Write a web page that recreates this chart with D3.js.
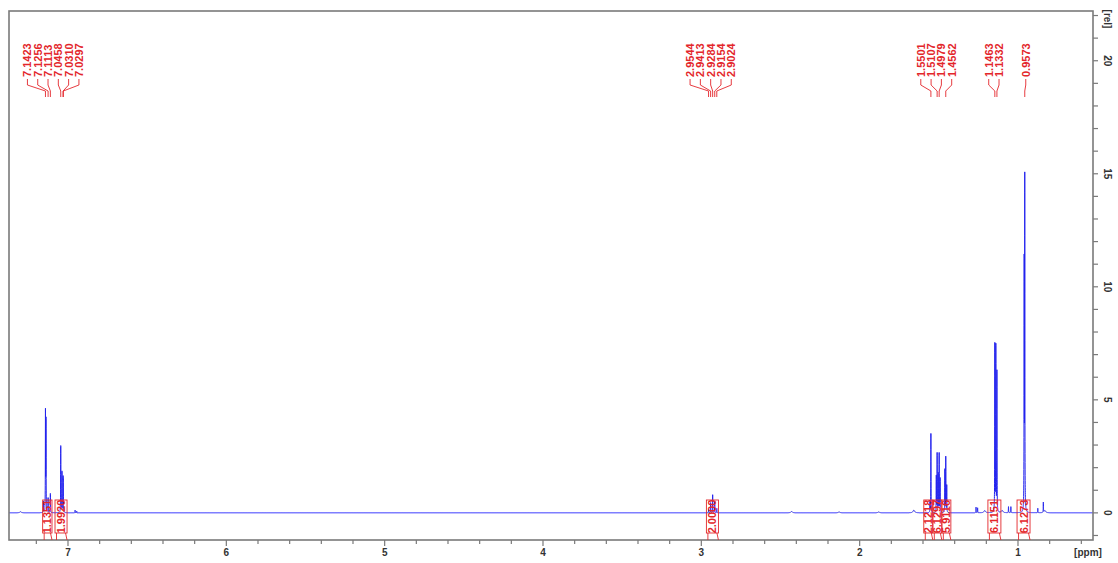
<!DOCTYPE html>
<html>
<head>
<meta charset="utf-8">
<script src="https://cdn.jsdelivr.net/npm/d3@7"></script>
<style>
  body { margin: 0; background: #fff; }
  svg { display: block; font-family: "Liberation Sans", Arial, sans-serif; }
</style>
</head>
<body>
<div id="chart"></div>
<script>
// peak lines (ppm, relative intensity)
const linePpm    = [7.1550, 7.1423, 7.1390, 7.1256, 7.1113, 7.0458, 7.0380, 7.0310, 7.0297, 6.9550, 6.9450,
                    2.9544, 2.9413, 2.9284, 2.9154, 2.9024,
                    1.5560, 1.5501, 1.5160, 1.5107, 1.5040, 1.4979, 1.4920, 1.4620, 1.4562, 1.4500,
                    1.2650, 1.2550, 1.1463, 1.1400, 1.1332, 1.0600, 1.0450,
                    0.9610, 0.9573, 0.8750, 0.8400];
const lineHeight = [0.50, 4.40, 4.00, 0.65, 0.85, 2.95, 1.80, 1.30, 1.10, 0.12, 0.08,
                    0.15, 0.45, 0.80, 0.50, 0.20,
                    0.50, 3.50, 1.60, 2.60, 1.70, 2.60, 1.50, 1.90, 2.45, 1.20,
                    0.25, 0.22, 7.40, 7.30, 6.20, 0.27, 0.27,
                    10.8, 14.6, 0.20, 0.45];

// small broad humps on the baseline
const humpPpm    = [7.30, 2.43, 2.13, 1.88, 1.658, 1.21, 1.10, 0.83];
const humpHeight = [0.05, 0.06, 0.04, 0.04, 0.12, 0.10, 0.10, 0.10];

// peak pick labels, grouped as drawn
const labelGroups = [
  [7.1423, 7.1256, 7.1113, 7.0458, 7.0310, 7.0297],
  [2.9544, 2.9413, 2.9284, 2.9154, 2.9024],
  [1.5501, 1.5107, 1.4979, 1.4562],
  [1.1463, 1.1332],
  [0.9573]
];

// integral regions
const integralFrom  = [7.160, 7.082, 2.968, 1.595, 1.538, 1.481, 1.190, 1.006];
const integralTo    = [7.101, 7.006, 2.892, 1.538, 1.481, 1.424, 1.108, 0.924];
const integralValue = ["1.1351", "1.9920", "2.0000", "2.1218", "6.1297", "5.9116", "6.1151", "6.1273"];

const xTicksMajor = [7, 6, 5, 4, 3, 2, 1];
const yTicksMajor = [0, 5, 10, 15, 20];

const W = 1118, H = 563;
const pLeft = 9, pRight = 1093, pTop = 11, pBottom = 540;
const red = "#e3262b", blue = "#2222ee", frame = "#7a7a7a";

const svg = d3.select("#chart").append("svg")
  .attr("width", W).attr("height", H);

const x = d3.scaleLinear().domain([7.3726, 0.5263]).range([pLeft, pRight]);
const y = d3.scaleLinear().domain([-1.2, 22.2]).range([pBottom, pTop]);

// spectrum as sum of lorentzian lines
const LW = 0.0008, HW = 0.006;
function intensity(p) {
  let s = 0;
  for (let i = 0; i < linePpm.length; i++) {
    const d = p - linePpm[i];
    s += lineHeight[i] * LW * LW / (d * d + LW * LW);
  }
  for (let i = 0; i < humpPpm.length; i++) {
    const d = p - humpPpm[i];
    s += humpHeight[i] * HW * HW / (d * d + HW * HW);
  }
  return s;
}
let pts = d3.range(0.5263, 7.3726, 0.0002).concat(linePpm);
pts.sort((a, b) => b - a);
const spec = pts.map(p => [p, intensity(p)]);

svg.append("clipPath").attr("id", "clip")
  .append("rect").attr("x", pLeft).attr("y", pTop)
  .attr("width", pRight - pLeft).attr("height", pBottom - pTop);

svg.append("path")
  .datum(spec)
  .attr("clip-path", "url(#clip)")
  .attr("fill", "none")
  .attr("stroke", blue)
  .attr("stroke-width", 1)
  .attr("d", d3.line().x(d => x(d[0])).y(d => y(d[1])));

// frame
svg.append("rect")
  .attr("x", pLeft).attr("y", pTop)
  .attr("width", pRight - pLeft).attr("height", pBottom - pTop)
  .attr("fill", "none").attr("stroke", frame).attr("stroke-width", 1.6);

// x ticks
const xMinor = d3.range(0.6, 7.4, 0.2).map(v => +v.toFixed(1));
svg.append("g").selectAll("line").data(xMinor).join("line")
  .attr("x1", d => x(d)).attr("x2", d => x(d))
  .attr("y1", pBottom).attr("y2", d => pBottom + (Number.isInteger(d) ? 6 : 4))
  .attr("stroke", frame).attr("stroke-width", 1.2);
svg.append("g").selectAll("text").data(xTicksMajor).join("text")
  .attr("x", d => x(d)).attr("y", 556)
  .attr("text-anchor", "middle")
  .style("font-size", "10px").style("font-weight", "bold").attr("fill", "#333")
  .text(d => d);
svg.append("text").attr("x", 1088).attr("y", 556)
  .attr("text-anchor", "middle")
  .style("font-size", "10px").style("font-weight", "bold").attr("fill", "#333")
  .text("[ppm]");

// y ticks on the right
const yMinor = d3.range(-1, 23);
svg.append("g").selectAll("line").data(yMinor).join("line")
  .attr("x1", pRight).attr("x2", pRight + 5)
  .attr("y1", d => y(d)).attr("y2", d => y(d))
  .attr("stroke", frame).attr("stroke-width", 1.2);
svg.append("g").selectAll("text").data(yTicksMajor).join("text")
  .attr("transform", d => `translate(1107,${y(d)}) rotate(90)`)
  .attr("text-anchor", "middle").attr("dy", "0.35em")
  .style("font-size", "10px").style("font-weight", "bold").attr("fill", "#333")
  .text(d => d);
svg.append("text")
  .attr("transform", "translate(1107,19) rotate(90)")
  .attr("text-anchor", "middle").attr("dy", "0.35em")
  .style("font-size", "10px").style("font-weight", "bold").attr("fill", "#333")
  .text("[rel]");

// peak labels with legs
const gl = svg.append("g");
labelGroups.forEach(group => {
  const n = group.length;
  const cx = d3.mean(group, p => x(p)) - (n > 1 ? 2 : -1);
  group.forEach((p, i) => {
    const lx = cx + (i - (n - 1) / 2) * 10.3;
    const px = x(p);
    gl.append("text")
      .attr("transform", `translate(${lx},77) rotate(-90)`)
      .attr("dy", "0.36em")
      .style("font-size", "11px").style("font-weight", "bold")
      .attr("fill", red)
      .text(p.toFixed(4));
    gl.append("path")
      .attr("d", `M${lx},79V85L${px},91V97`)
      .attr("fill", "none").attr("stroke", red).attr("stroke-width", 0.9);
  });
});

// integrals
const gi = svg.append("g");
integralValue.forEach((v, i) => {
  const a = x(integralFrom[i]), b = x(integralTo[i]);
  gi.append("rect")
    .attr("x", a).attr("y", 500).attr("width", b - a).attr("height", 33)
    .attr("fill", "none").attr("stroke", red).attr("stroke-width", 0.9);
  gi.append("path")
    .attr("d", `M${a + 1.5},533V${pBottom}M${b - 1.5},533L${b},${pBottom}`)
    .attr("fill", "none").attr("stroke", red).attr("stroke-width", 0.9);
  gi.append("text")
    .attr("transform", `translate(${(a + b) / 2},516.5) rotate(-90)`)
    .attr("text-anchor", "middle").attr("dy", "0.36em")
    .style("font-size", "11px").style("font-weight", "bold")
    .attr("fill", red)
    .text(v);
});
</script>
</body>
</html>
